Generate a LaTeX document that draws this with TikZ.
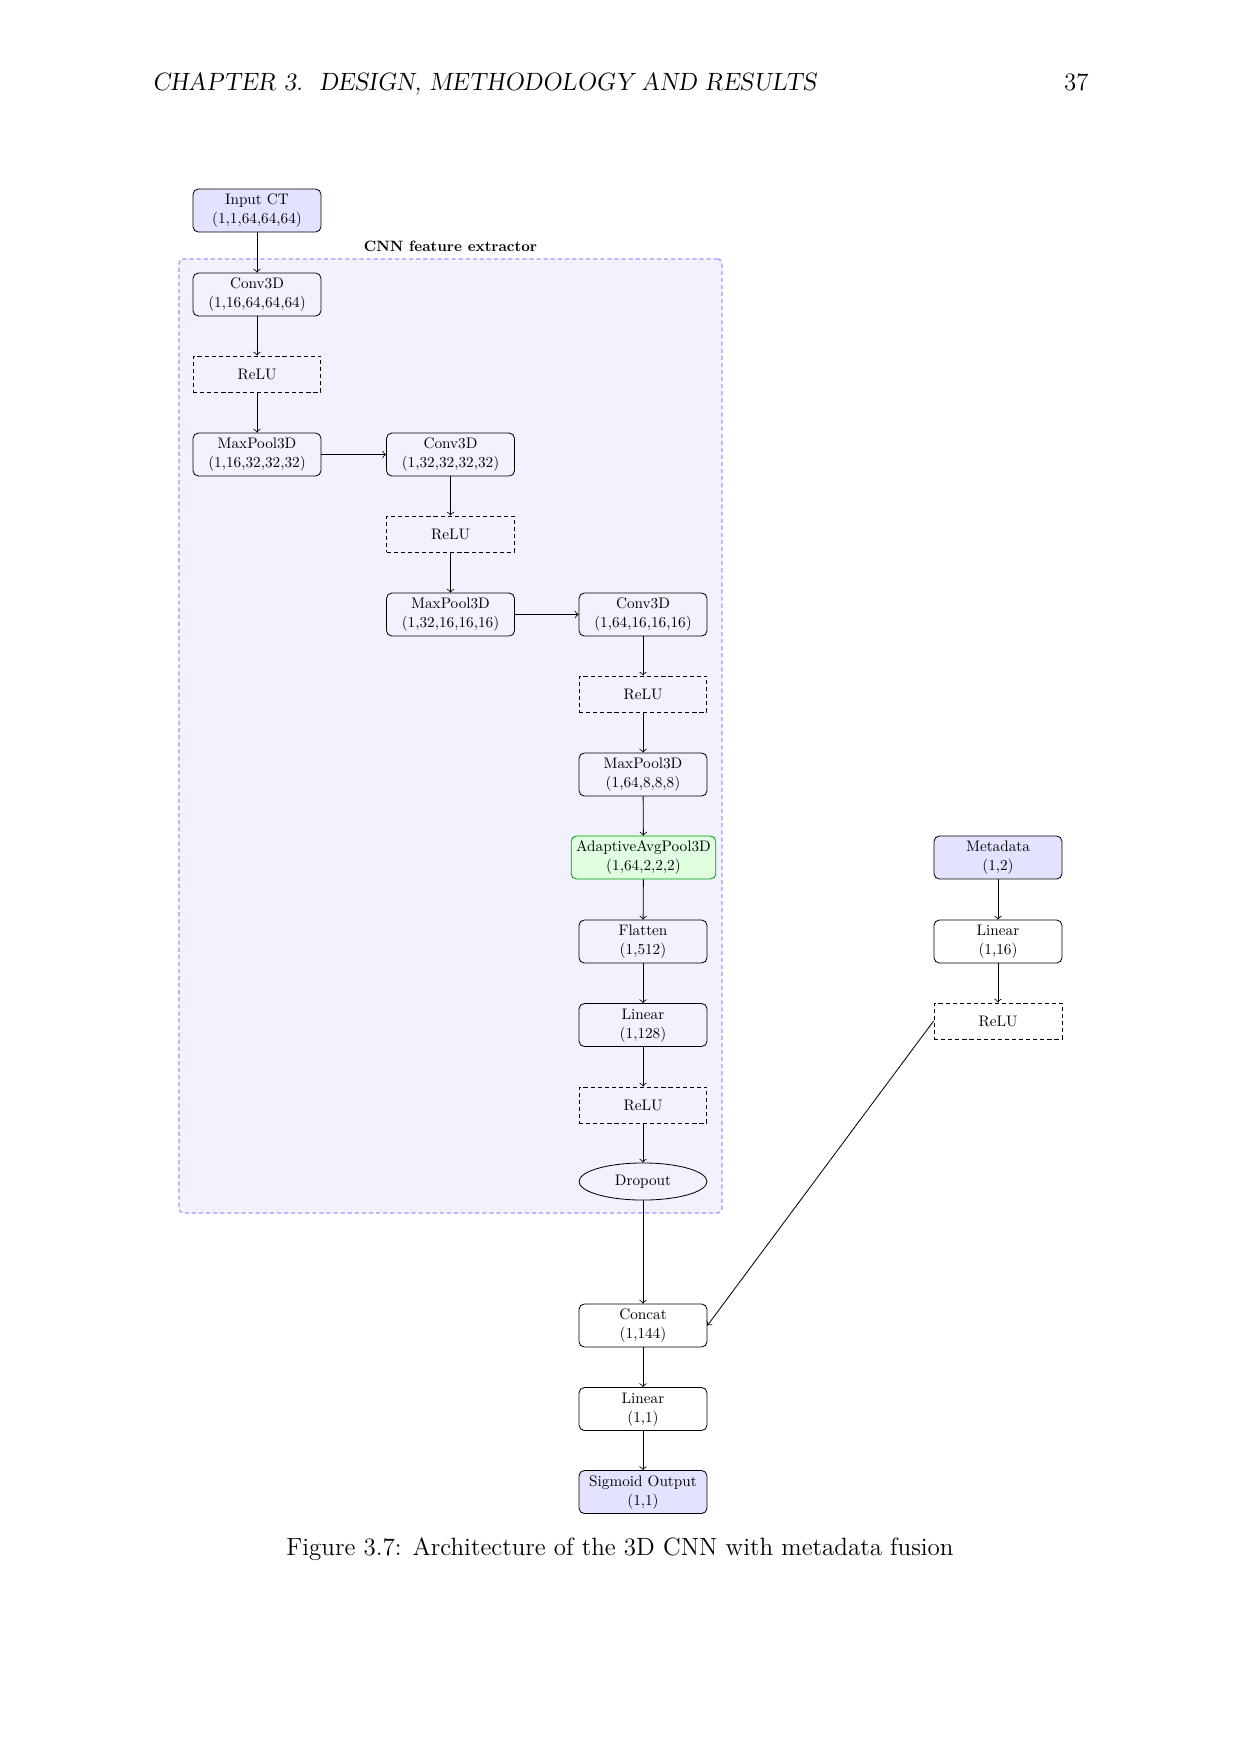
\documentclass[tikz,border=0pt]{standalone}
\usepackage{graphicx}
\usetikzlibrary{shapes.geometric,backgrounds}
\newcommand{\nt}[1]{\scalebox{0.668}{\begin{tabular}{@{}c@{}}#1\end{tabular}}}
\newcommand{\ns}[1]{\scalebox{0.668}{#1}}
\begin{document}
\begin{tikzpicture}[x=0.48pt,y=-0.48pt,
  lbl/.style={font=\fontsize{10.95}{13.6}\selectfont, align=center},
  blk/.style={lbl, draw, rounded corners=2.5pt, minimum width=61.4pt, minimum height=20.6pt, inner xsep=2.4pt, inner ysep=1pt, line width=0.4pt},
  relubox/.style={lbl, draw, dashed, dash pattern=on 2pt off 1.4pt, minimum width=61.4pt, minimum height=17.3pt, line width=0.45pt},
  inbox/.style={blk, fill=blue!11},
  poolbox/.style={blk, draw=green!60!black, fill=green!12},
  dropbox/.style={lbl, draw, ellipse, minimum width=61.4pt, minimum height=17.8pt, inner sep=1pt, line width=0.4pt},
  conn/.style={->, line width=0.4pt},
  container/.style={draw=blue!40, dashed, dash pattern=on 2pt off 1.4pt, fill=blue!5, rounded corners=2pt, line width=0.6pt, minimum width=260.6pt, minimum height=457.9pt}
]
\useasboundingbox (0,0) rectangle (1241,1754);

% header
\node[font=\fontsize{12}{14}\selectfont\slshape, anchor=base west, inner sep=0pt] (hdr) at (152,90) {CHAPTER 3.\ \ DESIGN, METHODOLOGY AND RESULTS};
\node[font=\fontsize{12}{14}\selectfont, anchor=base east, inner sep=0pt] (pg) at (1089,90) {37};

% CNN branch
\node[inbox] (in) at (257,210.5) {\nt{Input CT\\(1,1,64,64,64)}};
\node[blk] (c1) at (257,294.5) {\nt{Conv3D\\(1,16,64,64,64)}};
\node[relubox] (r1) at (257,374) {\ns{ReLU}};
\node[blk] (m1) at (257,454.5) {\nt{MaxPool3D\\(1,16,32,32,32)}};
\node[blk] (c2) at (450.5,454.5) {\nt{Conv3D\\(1,32,32,32,32)}};
\node[relubox] (r2) at (450.5,534) {\ns{ReLU}};
\node[blk] (m2) at (450.5,614.5) {\nt{MaxPool3D\\(1,32,16,16,16)}};
\node[blk] (c3) at (643,614.5) {\nt{Conv3D\\(1,64,16,16,16)}};
\node[relubox] (r3) at (643,694) {\ns{ReLU}};
\node[blk] (m3) at (643,774.5) {\nt{MaxPool3D\\(1,64,8,8,8)}};
\node[poolbox] (ap) at (643.5,857.5) {\nt{AdaptiveAvgPool3D\\(1,64,2,2,2)}};
\node[blk] (fl) at (643,941.5) {\nt{Flatten\\(1,512)}};
\node[blk] (li) at (643,1025) {\nt{Linear\\(1,128)}};
\node[relubox] (r4) at (643,1105) {\ns{ReLU}};
\node[dropbox] (dr) at (643,1181.5) {\ns{Dropout}};

% fusion
\node[blk] (cc) at (643,1325.5) {\nt{Concat\\(1,144)}};
\node[blk] (l2) at (643,1409) {\nt{Linear\\(1,1)}};
\node[inbox] (so) at (643,1492) {\nt{Sigmoid Output\\(1,1)}};

% metadata branch
\node[inbox] (md) at (998,857.5) {\nt{Metadata\\(1,2)}};
\node[blk] (ml) at (998,941.5) {\nt{Linear\\(1,16)}};
\node[relubox] (mr) at (998,1021) {\ns{ReLU}};

% container
\begin{scope}[on background layer]
\node[container] (cnn) at (450.5,736) {};
\end{scope}
\node[anchor=base, inner sep=0pt] (cnnlbl) at (450.5,251) {\scalebox{0.72}{\fontsize{10}{12}\selectfont\bfseries CNN feature extractor}};

% connectors
\draw[conn] (in) -- (c1);
\draw[conn] (c1) -- (r1);
\draw[conn] (r1) -- (m1);
\draw[conn] (m1) -- (c2);
\draw[conn] (c2) -- (r2);
\draw[conn] (r2) -- (m2);
\draw[conn] (m2) -- (c3);
\draw[conn] (c3) -- (r3);
\draw[conn] (r3) -- (m3);
\draw[conn] (m3) -- (ap);
\draw[conn] (ap) -- (fl);
\draw[conn] (fl) -- (li);
\draw[conn] (li) -- (r4);
\draw[conn] (r4) -- (dr);
\draw[conn] (dr) -- (cc);
\draw[conn] (cc) -- (l2);
\draw[conn] (l2) -- (so);
\draw[conn] (md) -- (ml);
\draw[conn] (ml) -- (mr);
\draw[conn] (mr.west) -- (cc.east);

% caption
\node[font=\fontsize{12}{14}\selectfont, anchor=base, inner sep=0pt] (cap) at (620,1555) {Figure 3.7: Architecture of the 3D CNN with metadata fusion};
\end{tikzpicture}
\end{document}
